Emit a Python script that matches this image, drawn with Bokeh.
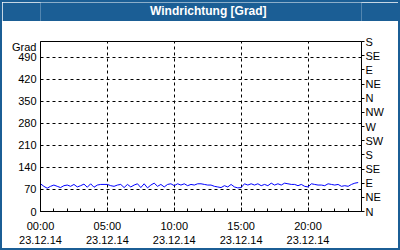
from bokeh.plotting import figure
from bokeh.layouts import column
from bokeh.models import Range1d, LinearAxis, FixedTicker, Label
from bokeh.embed import file_html
from bokeh.resources import INLINE

# ---- data ----
hours = [i * 0.25 for i in range(96)]
direction = [
    88, 80, 74, 80, 84, 80, 76, 82, 84, 80, 86, 78,
    82, 87, 77, 88, 77, 84, 86, 86, 86, 82, 80, 84,
    86, 76, 86, 78, 84, 88, 76, 88, 75, 84, 90, 80,
    86, 78, 86, 88, 82, 88, 84, 88, 82, 86, 84, 88,
    88, 86, 84, 84, 80, 78, 76, 82, 78, 86, 78, 75,
    76, 88, 84, 88, 84, 88, 82, 86, 82, 90, 84, 88,
    84, 90, 88, 86, 86, 82, 86, 80, 78, 88, 86, 84,
    84, 82, 88, 86, 84, 86, 80, 82, 80, 86, 90, 92,
]
x_ticks = [0, 5, 10, 15, 20]
x_times = ["00:00", "05:00", "10:00", "15:00", "20:00"]
x_date = "23.12.14"
y_ticks = [0, 70, 140, 210, 280, 350, 420, 490]
compass_ticks = [0, 45, 90, 135, 180, 225, 270, 315, 360, 405, 450, 495, 540]
compass_labels = ["N", "NE", "E", "SE", "S", "SW", "W", "NW", "N", "NE", "E", "SE", "S"]
title_text = "Windrichtung [Grad]"
unit_text = "Grad"

BLUE = "#1b5e95"
FONT = "Liberation Sans"
Y_MAX = 540
FRAME_H = 170

# ---- title bar figure ----
t = figure(width=396, height=19, x_range=Range1d(0, 396), y_range=Range1d(0, 19),
           output_backend="svg", toolbar_location=None,
           min_border_left=0, min_border_right=0, min_border_top=0, min_border_bottom=0,
           x_axis_location=None, y_axis_location=None)
t.background_fill_color = BLUE
t.border_fill_color = BLUE
t.outline_line_color = None
t.xgrid.visible = False
t.ygrid.visible = False
t.add_layout(Label(x=207, y=11, text=title_text, text_align="center",
                   text_baseline="middle", text_font=FONT, text_font_size="12px",
                   text_font_style="bold", text_color="white"))

# ---- main chart ----
p = figure(width=396, height=227, x_range=Range1d(0, 24), y_range=Range1d(0, Y_MAX),
           output_backend="svg", toolbar_location=None,
           min_border_left=38, min_border_right=37, min_border_top=20, min_border_bottom=37,
           x_axis_location=None, y_axis_location=None)
p.background_fill_color = "white"
p.border_fill_color = "white"
p.outline_line_color = "black"
p.outline_line_width = 1

# bottom axis
xa = LinearAxis(ticker=FixedTicker(ticks=x_ticks, minor_ticks=list(range(25))))
xa.major_label_overrides = {tk: f"{s}\n{x_date}" for tk, s in zip(x_ticks, x_times)}
xa.major_tick_in = 4
xa.major_tick_out = 0
xa.minor_tick_in = 3
xa.minor_tick_out = 0
xa.major_label_standoff = 8
xa.major_label_text_font = FONT
xa.major_label_text_font_size = "11px"
xa.major_label_text_color = "black"
xa.axis_line_color = "black"
xa.major_tick_line_color = "black"
xa.minor_tick_line_color = "black"
p.add_layout(xa, "below")

# left axis (unit label "Grad" sits just under the top edge)
grad_pos = Y_MAX - 5 * Y_MAX / FRAME_H
ya = LinearAxis(ticker=FixedTicker(ticks=y_ticks + [grad_pos], minor_ticks=[]))
ya.major_label_overrides = {grad_pos: unit_text}
ya.major_tick_in = 0
ya.major_tick_out = 0
ya.major_label_standoff = 4
ya.major_label_text_font = FONT
ya.major_label_text_font_size = "11px"
ya.major_label_text_color = "black"
ya.axis_line_color = "black"
p.add_layout(ya, "left")

# right compass axis
ra = LinearAxis(ticker=FixedTicker(ticks=compass_ticks, minor_ticks=[]))
ra.major_label_overrides = {tk: s for tk, s in zip(compass_ticks, compass_labels)}
ra.major_tick_in = 0
ra.major_tick_out = 3
ra.major_label_standoff = 1
ra.major_label_text_font = FONT
ra.major_label_text_font_size = "11px"
ra.major_label_text_color = "black"
ra.axis_line_color = "black"
ra.major_tick_line_color = "black"
p.add_layout(ra, "right")

p.xgrid.ticker = FixedTicker(ticks=x_ticks)
p.ygrid.ticker = FixedTicker(ticks=y_ticks)
for g in (p.xgrid, p.ygrid):
    g.grid_line_color = "black"
    g.grid_line_dash = "3 3"
    g.grid_line_width = 1

p.line(hours, direction, line_color="#0000ff", line_width=1)

layout = column(t, p, spacing=0)
layout.styles = {"border": f"2px solid {BLUE}"}

open("out.html", "w").write(file_html(layout, INLINE))
